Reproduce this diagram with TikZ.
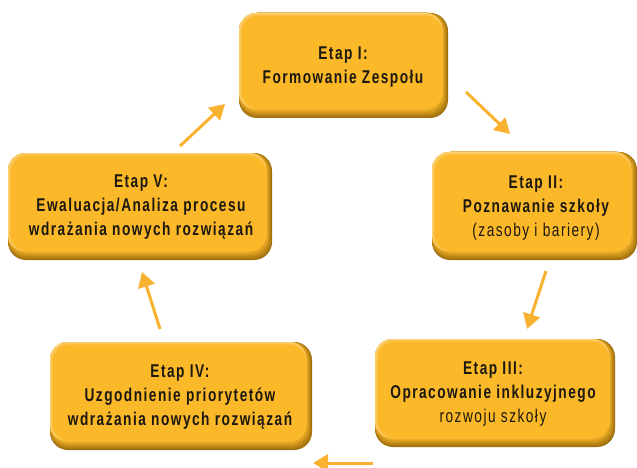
\documentclass[tikz,border=0pt]{standalone}
\usepackage{fontspec}
\setmainfont{Liberation Sans}[FakeStretch=0.74,LetterSpace=8]
\usetikzlibrary{arrows.meta}
\definecolor{boxbase}{HTML}{FBB829}
\definecolor{boxdark}{HTML}{A0700E}
\definecolor{boxlight}{HTML}{FDD27A}
\definecolor{arrowc}{HTML}{F9B230}
\definecolor{txt}{HTML}{1C1810}
\newcommand{\stagebg}[4]{%
  \foreach \k in {0,...,9}{%
    \pgfmathsetmacro{\mix}{100*\k/9}%
    \fill[boxbase!\mix!boxdark, rounded corners=18pt] (#1,#2) rectangle ({#3-0.65*\k},{#4-1.0*\k});
  }%
  \foreach \k in {0,...,5}{%
    \pgfmathsetmacro{\mix}{100*\k/5}%
    \fill[boxbase!\mix!boxlight, rounded corners=17pt] ({#1+0.6*\k},{#2+0.6*\k}) rectangle ({#3-5.9},{#4-9});
  }%
}
\tikzset{
  stagetext/.style={align=center, text=txt, font=\fontsize{18.5}{24}\selectfont\bfseries, inner sep=0pt},
  flow/.style={draw=arrowc, line width=3pt, -{Triangle[length=15pt,width=17pt]}, shorten >=0pt}
}
\begin{document}
\begin{tikzpicture}[x=1pt,y=-1pt]
\useasboundingbox (0,0) rectangle (637,468);
% backgrounds
\stagebg{239}{13}{448}{118}
\stagebg{432}{152}{637}{260}
\stagebg{375}{339}{615}{447}
\stagebg{50}{342}{312}{450}
\stagebg{8}{153}{272}{260}
% texts
\node[stagetext] (s1) at (343,67) {Etap I:\\Formowanie Zespołu};
\node[stagetext] (s2) at (536,208) {Etap II:\\Poznawanie szkoły\\{\mdseries (zasoby i bariery)}};
\node[stagetext] (s3) at (493,394) {Etap III:\\Opracowanie inkluzyjnego\\{\mdseries rozwoju szkoły}};
\node[stagetext] (s4) at (180,397) {Etap IV:\\Uzgodnienie priorytetów\\wdrażania nowych rozwiązań};
\node[stagetext] (s5) at (141,207) {Etap V:\\Ewaluacja/Analiza procesu\\wdrażania nowych rozwiązań};
% arrow endpoints
\coordinate (a1s) at (466,92);  \coordinate (a1e) at (510,134);
\coordinate (a2s) at (546,271); \coordinate (a2e) at (527,329);
\coordinate (a3s) at (373,463); \coordinate (a3e) at (313,463);
\coordinate (a4s) at (160,329); \coordinate (a4e) at (142,272);
\coordinate (a5s) at (180,146); \coordinate (a5e) at (225,104);
\draw[flow] (a1s) -- (a1e);
\draw[flow] (a2s) -- (a2e);
\draw[flow] (a3s) -- (a3e);
\draw[flow] (a4s) -- (a4e);
\draw[flow] (a5s) -- (a5e);
\end{tikzpicture}
\end{document}
